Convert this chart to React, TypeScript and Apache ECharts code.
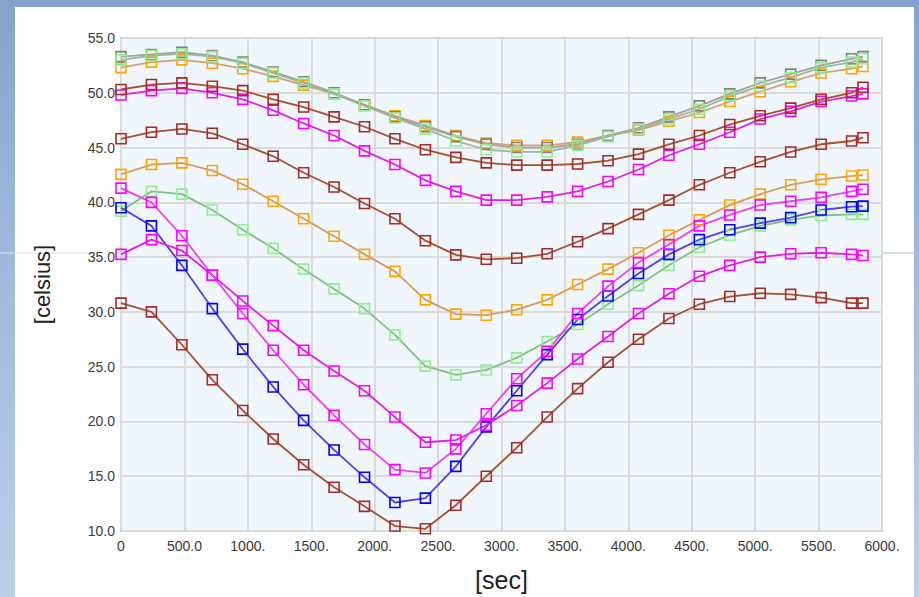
import React, { useEffect, useRef } from "react";
import * as echarts from "echarts";

const TIMES = [0, 240, 480, 720, 960, 1200, 1440, 1680, 1920, 2160, 2400, 2640, 2880, 3120, 3360, 3600, 3840, 4080, 4320, 4560, 4800, 5040, 5280, 5520, 5760, 5850];

const TOP_ORANGE = [52.3, 52.8, 53.0, 52.7, 52.2, 51.5, 50.7, 49.9, 48.9, 47.9, 47.0, 46.1, 45.4, 45.2, 45.2, 45.5, 46.1, 46.6, 47.4, 48.2, 49.2, 50.1, 51.0, 51.8, 52.2, 52.4];
const TOP_GREY = [53.3, 53.5, 53.7, 53.4, 52.8, 51.9, 51.0, 50.0, 48.9, 47.8, 46.9, 46.0, 45.3, 45.0, 45.0, 45.3, 46.1, 46.8, 47.8, 48.8, 49.9, 50.9, 51.7, 52.5, 53.1, 53.3];
const TOP_GREEN = [53.0, 53.4, 53.55, 53.3, 52.7, 51.8, 50.9, 49.9, 48.8, 47.7, 46.7, 45.6, 44.8, 44.6, 44.6, 45.2, 46.0, 46.7, 47.6, 48.5, 49.7, 50.6, 51.4, 52.3, 52.8, 53.1];
const BROWN_50 = [50.3, 50.75, 50.9, 50.6, 50.2, 49.4, 48.7, 47.8, 46.9, 45.8, 44.8, 44.1, 43.6, 43.4, 43.4, 43.5, 43.8, 44.4, 45.3, 46.1, 47.1, 47.9, 48.6, 49.4, 50.0, 50.5];
const MAGENTA_50 = [49.8, 50.2, 50.4, 50.0, 49.4, 48.4, 47.2, 46.1, 44.7, 43.45, 42.0, 41.0, 40.2, 40.2, 40.5, 41.0, 41.9, 43.0, 44.3, 45.3, 46.4, 47.6, 48.3, 49.2, 49.7, 49.9];
const BROWN_46 = [45.8, 46.4, 46.7, 46.3, 45.3, 44.2, 42.7, 41.4, 39.9, 38.5, 36.5, 35.2, 34.8, 34.9, 35.3, 36.4, 37.6, 38.9, 40.2, 41.6, 42.7, 43.7, 44.6, 45.3, 45.6, 45.9];
const ORANGE_43 = [42.55, 43.45, 43.6, 42.9, 41.65, 40.1, 38.5, 36.9, 35.25, 33.7, 31.1, 29.8, 29.7, 30.2, 31.1, 32.5, 33.9, 35.4, 37.0, 38.4, 39.75, 40.75, 41.6, 42.1, 42.4, 42.5];
const GREEN_40 = [39.2, 41.0, 40.75, 39.3, 37.5, 35.8, 33.9, 32.1, 30.3, 27.9, 25.05, 24.25, 24.7, 25.8, 27.3, 28.85, 30.7, 32.4, 34.25, 35.9, 37.0, 37.85, 38.4, 38.8, 38.9, 38.9];
const BLUE = [39.5, 37.85, 34.25, 30.3, 26.6, 23.15, 20.1, 17.4, 14.9, 12.6, 13.0, 15.9, 19.5, 22.8, 26.1, 29.3, 31.45, 33.5, 35.25, 36.6, 37.5, 38.1, 38.6, 39.3, 39.6, 39.65];
const MAGENTA_A = [41.3, 40.0, 36.95, 33.35, 29.85, 26.5, 23.35, 20.55, 17.9, 15.6, 15.3, 17.5, 20.7, 23.9, 26.4, 29.85, 32.35, 34.5, 36.15, 37.85, 38.85, 39.75, 40.1, 40.45, 41.0, 41.2];
const MAGENTA_B = [35.25, 36.6, 35.6, 33.35, 31.0, 28.75, 26.5, 24.6, 22.8, 20.4, 18.1, 18.3, 19.65, 21.45, 23.5, 25.7, 27.75, 29.85, 31.65, 33.25, 34.25, 35.0, 35.3, 35.4, 35.25, 35.15];
const BROWN_LOW = [30.8, 30.0, 27.0, 23.8, 21.0, 18.4, 16.05, 14.0, 12.25, 10.45, 10.2, 12.35, 15.0, 17.6, 20.4, 23.0, 25.4, 27.5, 29.4, 30.7, 31.4, 31.7, 31.6, 31.3, 30.8, 30.8];

const X_MIN = 0;
const X_MAX = 6000;
const X_STEP = 500;
const Y_MIN = 10;
const Y_MAX = 55;
const Y_STEP = 5;

type S = { name: string; values: number[]; marker: string; line: string };

const SERIES: S[] = [
  { name: "top-orange", values: TOP_ORANGE, marker: "#ffa500", line: "#d8a070" },
  { name: "top-grey", values: TOP_GREY, marker: "#808080", line: "#a8a098" },
  { name: "top-green", values: TOP_GREEN, marker: "#90ee90", line: "#9ab8a0" },
  { name: "magenta-50", values: MAGENTA_50, marker: "#ff00ff", line: "#e020e0" },
  { name: "brown-50", values: BROWN_50, marker: "#a52a2a", line: "#a8502c" },
  { name: "brown-46", values: BROWN_46, marker: "#a52a2a", line: "#a8502c" },
  { name: "orange-43", values: ORANGE_43, marker: "#ffa500", line: "#d89a5a" },
  { name: "green-40", values: GREEN_40, marker: "#90ee90", line: "#80c080" },
  { name: "brown-low", values: BROWN_LOW, marker: "#a52a2a", line: "#a8502c" },
  { name: "blue", values: BLUE, marker: "#0000ff", line: "#5a3cf0" },
  { name: "magenta-b", values: MAGENTA_B, marker: "#ff00ff", line: "#e020e0" },
  { name: "magenta-a", values: MAGENTA_A, marker: "#ff00ff", line: "#ee40ee" },
];

export default function App() {
  const ref = useRef<HTMLDivElement>(null);

  useEffect(() => {
    if (!ref.current) return;
    const chart = echarts.init(ref.current, undefined, { renderer: "svg" });
    const font = "'Liberation Sans', Arial, sans-serif";
    chart.setOption({
      animation: false,
      backgroundColor: "transparent",
      grid: {
        left: 121,
        right: 37,
        top: 38,
        bottom: 60,
        show: true,
        backgroundColor: "#eff7fd",
        borderColor: "#8c9aa8",
        borderWidth: 1.5,
      },
      xAxis: {
        type: "value",
        min: X_MIN,
        max: X_MAX,
        interval: X_STEP,
        name: "[sec]",
        nameLocation: "middle",
        nameGap: 36,
        nameTextStyle: { fontSize: 25, color: "#222", fontFamily: font },
        axisLine: { show: false },
        axisTick: { show: false },
        axisLabel: {
          margin: 8,
          fontSize: 14,
          color: "#3a3a3a",
          fontFamily: font,
          formatter: (v: number) => (v === 0 ? "0" : v === 500 ? "500.0" : `${v}.`),
        },
        splitLine: { show: true, lineStyle: { color: "#dadada", width: 2 } },
      },
      yAxis: {
        type: "value",
        min: Y_MIN,
        max: Y_MAX,
        interval: Y_STEP,
        name: "[celsius]",
        nameLocation: "middle",
        nameGap: 68,
        nameTextStyle: { fontSize: 22, color: "#222", fontFamily: font },
        axisLine: { show: false },
        axisTick: { show: false },
        axisLabel: {
          margin: 6,
          fontSize: 14,
          color: "#3a3a3a",
          fontFamily: font,
          formatter: (v: number) => v.toFixed(1),
        },
        splitLine: { show: true, lineStyle: { color: "#dadada", width: 2 } },
      },
      graphic: [
        { type: "line", shape: { x1: 0, y1: 253, x2: 121, y2: 253 }, style: { stroke: "#d6e2ec", lineWidth: 1 } },
        { type: "line", shape: { x1: 883, y1: 253, x2: 919, y2: 253 }, style: { stroke: "#a8c4dc", lineWidth: 1 } },
      ],
      series: SERIES.map((s) => ({
        name: s.name,
        type: "line",
        data: TIMES.map((t, i) => [t, s.values[i]]),
        symbol: "rect",
        symbolSize: 10,
        showSymbol: true,
        lineStyle: { color: s.line, width: 1.8 },
        itemStyle: { color: "rgba(0,0,0,0)", borderColor: s.marker, borderWidth: 1.6 },
        emphasis: { disabled: true },
      })),
    });
    return () => chart.dispose();
  }, []);

  return (
    <div
      style={{
        position: "fixed",
        left: 0,
        top: 0,
        width: 919,
        height: 597,
        background: "linear-gradient(180deg, #86a3cd 0%, #9db8dc 40%, #b9d0e6 100%)",
        overflow: "hidden",
      }}
    >
      <div style={{ position: "absolute", left: 15, top: 7, width: 899, height: 590, background: "#ffffff" }} />
      <div ref={ref} style={{ position: "absolute", left: 0, top: 0, width: 919, height: 597 }} />
    </div>
  );
}
